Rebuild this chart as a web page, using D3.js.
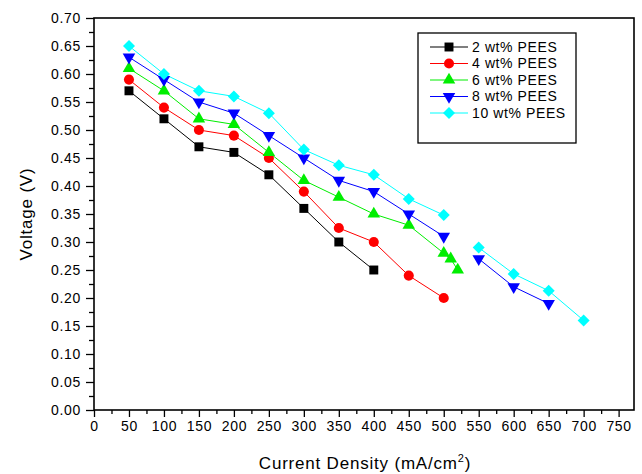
<!DOCTYPE html>
<html>
<head>
<meta charset="utf-8">
<script src="https://cdn.jsdelivr.net/npm/d3@7"></script>
<style>
  body { margin: 0; background: #fff; }
  svg { font-family: "Liberation Sans", Arial, sans-serif; }
</style>
</head>
<body>
<svg id="chart" width="642" height="474"></svg>
<script>
const width = 642;
const height = 474;

// current density (mA/cm2) and voltage readings per membrane
const x2 = [50, 100, 150, 200, 250, 300, 350, 400];
const v2 = [0.57, 0.52, 0.47, 0.46, 0.42, 0.36, 0.30, 0.25];

const x4 = [50, 100, 150, 200, 250, 300, 350, 400, 450, 500];
const v4 = [0.59, 0.54, 0.50, 0.49, 0.45, 0.39, 0.325, 0.30, 0.24, 0.20];

const x6 = [50, 100, 150, 200, 250, 300, 350, 400, 450, 500, 510, 520];
const v6 = [0.61, 0.57, 0.52, 0.51, 0.46, 0.41, 0.38, 0.35, 0.33, 0.28, 0.27, 0.25];

// null = break in the line (no segment between 500 and 550)
const x8 = [50, 100, 150, 200, 250, 300, 350, 400, 450, 500, null, 550, 600, 650];
const v8 = [0.63, 0.59, 0.55, 0.53, 0.49, 0.45, 0.41, 0.39, 0.35, 0.31, null, 0.27, 0.22, 0.19];

const x10 = [50, 100, 150, 200, 250, 300, 350, 400, 450, 500, null, 550, 600, 650, 700];
const v10 = [0.65, 0.60, 0.57, 0.56, 0.53, 0.465, 0.437, 0.42, 0.377, 0.348, null, 0.29, 0.243, 0.213, 0.16];

const seriesNames = ["2 wt% PEES", "4 wt% PEES", "6 wt% PEES", "8 wt% PEES", "10 wt% PEES"];
const seriesColors = ["#000000", "#ff0000", "#00ee00", "#0000ff", "#00ffff"];
const seriesSymbols = [d3.symbolSquare, d3.symbolCircle, d3.symbolTriangle, d3.symbolTriangle, d3.symbolSquare];

const xTicks = d3.range(0, 751, 50);
const yTicks = d3.range(0, 0.701, 0.05);

const series = [
  [x2, v2], [x4, v4], [x6, v6], [x8, v8], [x10, v10]
].map(([xs, vs], i) => ({
  name: seriesNames[i],
  color: seriesColors[i],
  symbol: seriesSymbols[i],
  rot: i === 3 ? 180 : (i === 4 ? 45 : 0), // down triangle, diamond
  size: [80, 80, 68, 68, 72][i],
  points: xs.map((x, j) => ({ x: x, y: vs[j] }))
}));

const margin = { left: 94, right: 8, top: 18, bottom: 64 };

const svg = d3.select("#chart");

const x = d3.scaleLinear().domain([0, 772]).range([margin.left, width - margin.right]);
const y = d3.scaleLinear().domain([0, 0.70]).range([height - margin.bottom, margin.top]);

function styleText(g) {
  g.selectAll("text")
    .attr("font-size", 14)
    .attr("letter-spacing", 0.7)
    .attr("fill", "#000")
    .attr("font-family", "Liberation Sans, Arial, sans-serif");
}

// minor ticks
svg.append("g")
  .attr("transform", `translate(0,${y(0)})`)
  .call(d3.axisBottom(x).tickValues(d3.range(25, 751, 50)).tickSize(4).tickFormat(""))
  .call(g => g.select(".domain").remove())
  .selectAll("line").attr("stroke-width", 1.3);

svg.append("g")
  .attr("transform", `translate(${x(0)},0)`)
  .call(d3.axisLeft(y).tickValues(d3.range(0.025, 0.7, 0.05)).tickSize(5).tickFormat(""))
  .call(g => g.select(".domain").remove())
  .selectAll("line").attr("stroke-width", 1.3);

// major ticks
svg.append("g")
  .attr("transform", `translate(0,${y(0)})`)
  .call(d3.axisBottom(x).tickValues(xTicks).tickSize(7).tickPadding(4).tickFormat(d3.format("d")))
  .call(g => g.select(".domain").remove())
  .call(g => g.selectAll("line").attr("stroke-width", 1.3))
  .call(styleText);

svg.append("g")
  .attr("transform", `translate(${x(0)},0)`)
  .call(d3.axisLeft(y).tickValues(yTicks).tickSize(8).tickPadding(5).tickFormat(d3.format(".2f")))
  .call(g => g.select(".domain").remove())
  .call(g => g.selectAll("line").attr("stroke-width", 1.3))
  .call(styleText);

// frame
svg.append("rect")
  .attr("x", x(0))
  .attr("y", y(0.70))
  .attr("width", x(772) - x(0))
  .attr("height", y(0) - y(0.70))
  .attr("fill", "none")
  .attr("stroke", "#000")
  .attr("stroke-width", 1.6);

const line = d3.line()
  .defined(d => d.x !== null && d.y !== null)
  .x(d => x(d.x))
  .y(d => y(d.y));

const plot = svg.append("g");

series.forEach(s => {
  plot.append("path")
    .datum(s.points)
    .attr("d", line)
    .attr("fill", "none")
    .attr("stroke", s.color)
    .attr("stroke-width", 1);
});

series.forEach(s => {
  plot.selectAll(null)
    .data(s.points.filter(d => d.x !== null))
    .enter()
    .append("path")
    .attr("d", d3.symbol().type(s.symbol).size(s.size))
    .attr("transform", d => `translate(${x(d.x)},${y(d.y)}) rotate(${s.rot})`)
    .attr("fill", s.color);
});

// legend
const legend = svg.append("g").attr("transform", "translate(418,33)");
legend.append("rect")
  .attr("width", 158)
  .attr("height", 110)
  .attr("fill", "#fff")
  .attr("stroke", "#000")
  .attr("stroke-width", 1.3);

series.forEach((s, i) => {
  const row = legend.append("g").attr("transform", `translate(0,${14 + i * 16.5})`);
  row.append("line")
    .attr("x1", 12).attr("x2", 50)
    .attr("stroke", s.color).attr("stroke-width", 1.2);
  row.append("path")
    .attr("d", d3.symbol().type(s.symbol).size(s.size))
    .attr("transform", `translate(31,0) rotate(${s.rot})`)
    .attr("fill", s.color);
  row.append("text")
    .attr("x", 54)
    .attr("dy", "0.35em")
    .attr("font-size", 14)
    .attr("letter-spacing", 0.6)
    .text(s.name);
});

// axis titles
svg.append("text")
  .attr("transform", `translate(32,${(y(0) + y(0.70)) / 2}) rotate(-90)`)
  .attr("text-anchor", "middle")
  .attr("font-size", 17)
  .attr("letter-spacing", 0.8)
  .text("Voltage (V)");

const xt = svg.append("text")
  .attr("x", 365)
  .attr("y", 469)
  .attr("text-anchor", "middle")
  .attr("font-size", 17)
  .attr("letter-spacing", 0.8);
xt.append("tspan").text("Current Density (mA/cm");
xt.append("tspan").attr("font-size", 11).attr("dy", -7).text("2");
xt.append("tspan").attr("dy", 7).text(")");
</script>
</body>
</html>
